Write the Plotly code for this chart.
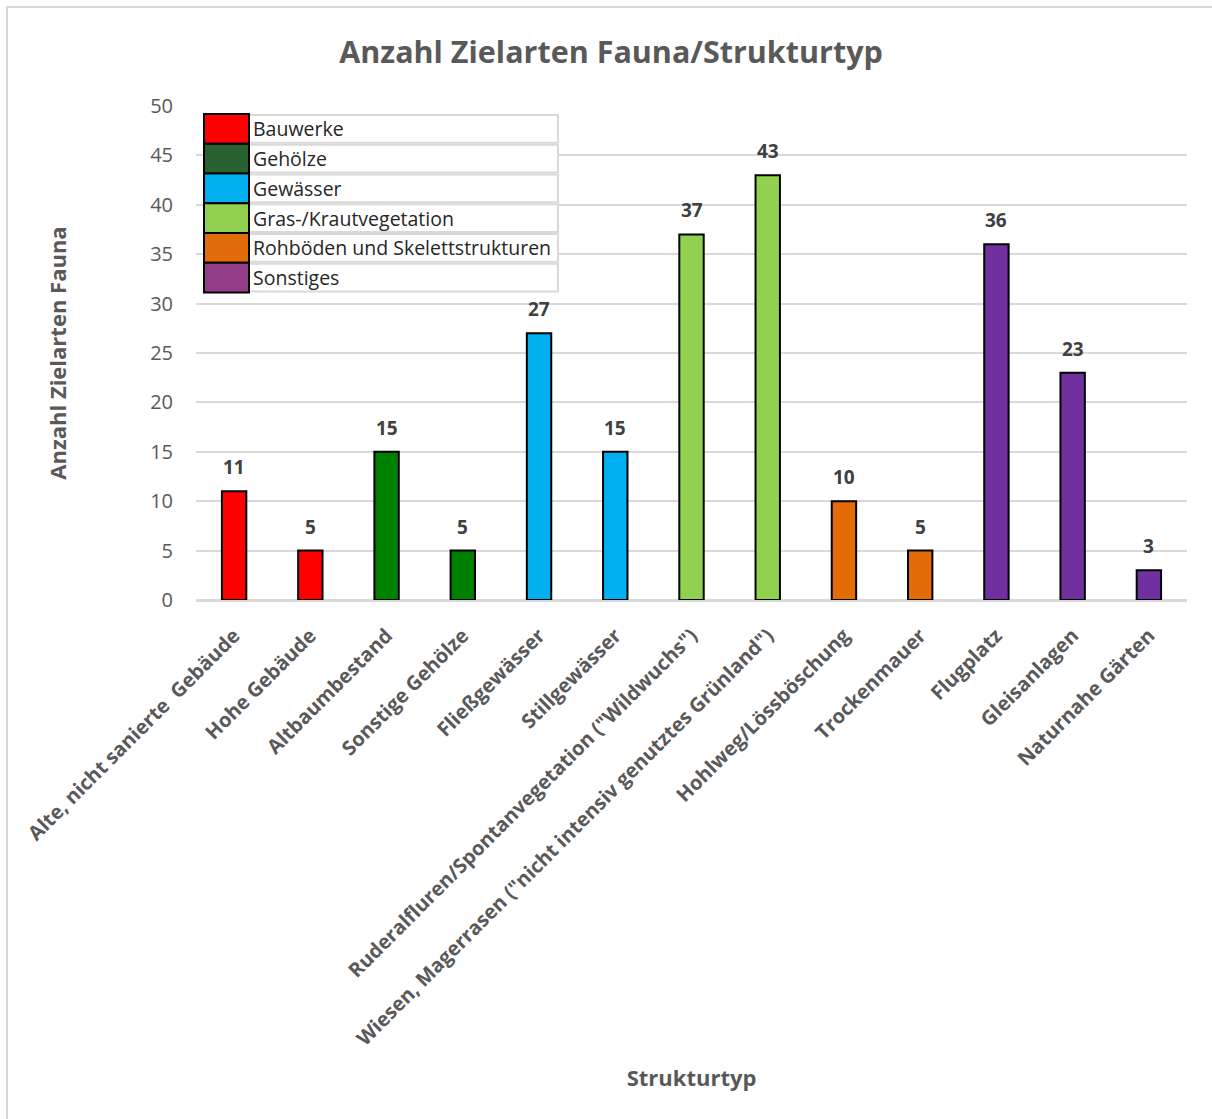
import plotly.graph_objects as go

# ---------------- data ----------------
categories = [
    "Alte, nicht sanierte  Gebäude",
    "Hohe Gebäude",
    "Altbaumbestand",
    "Sonstige Gehölze",
    "Fließgewässer",
    "Stillgewässer",
    'Ruderalfluren/Spontanvegetation ("Wildwuchs")',
    'Wiesen, Magerrasen ("nicht intensiv genutztes Grünland")',
    "Hohlweg/Lössböschung",
    "Trockenmauer",
    "Flugplatz",
    "Gleisanlagen",
    "Naturnahe Gärten",
]
values = [11, 5, 15, 5, 27, 15, 37, 43, 10, 5, 36, 23, 3]
groups = [
    "Bauwerke", "Bauwerke",
    "Gehölze", "Gehölze",
    "Gewässer", "Gewässer",
    "Gras-/Krautvegetation", "Gras-/Krautvegetation",
    "Rohböden und Skelettstrukturen", "Rohböden und Skelettstrukturen",
    "Sonstiges", "Sonstiges", "Sonstiges",
]
legend_labels = ["Bauwerke", "Gehölze", "Gewässer", "Gras-/Krautvegetation",
                 "Rohböden und Skelettstrukturen", "Sonstiges"]
bar_colors = ["#FF0000", "#008000", "#00B0F0", "#92D050", "#E36C09", "#7030A0"]
legend_colors = ["#FF0000", "#296131", "#00B0F0", "#92D050", "#E36C0A", "#943E8A"]
y_ticks = [0, 5, 10, 15, 20, 25, 30, 35, 40, 45, 50]

title_text = "Anzahl Zielarten Fauna/Strukturtyp"
x_title = "Strukturtyp"
y_title = "Anzahl Zielarten Fauna"

# ---------------- layout helpers ----------------
W, H = 1212, 1119
PL, PR, PT, PB = 196, 1187, 106, 600.5   # plot area in pixels


def px(x):
    return (x - PL) / (PR - PL)


def py(y):
    return (PB - y) / (PB - PT)


FONT = "Open Sans"
GRAY = "#595959"

color_map = dict(zip(legend_labels, bar_colors))
colors = [color_map[g] for g in groups]

fig = go.Figure()
fig.add_trace(go.Bar(
    x=categories,
    y=values,
    marker=dict(color=colors, line=dict(color="#000000", width=2)),
    width=0.32,
    showlegend=False,
    hoverinfo="x+y",
))

# data labels
for c, v in zip(categories, values):
    fig.add_annotation(
        x=c, y=v, xref="x", yref="y", text=f"<b>{v}</b>", showarrow=False,
        yanchor="middle", yshift=24,
        font=dict(family=FONT, size=19, color="#404040"),
    )

shapes = []
# outer chart border
shapes.append(dict(type="rect", xref="paper", yref="paper",
                   x0=px(7), x1=px(1230), y0=py(1140), y1=py(7),
                   line=dict(color="#D9D9D9", width=2), fillcolor="rgba(0,0,0,0)",
                   layer="below"))

# custom legend (table-like)
L_TOP, ROW_H = 114, 29.8
SW_X0, SW_X1, BOX_X1 = 204, 249, 558
for i, (lab, col) in enumerate(zip(legend_labels, legend_colors)):
    t = L_TOP + i * ROW_H
    b = t + ROW_H
    shapes.append(dict(type="rect", xref="paper", yref="paper",
                       x0=px(SW_X1), x1=px(BOX_X1), y0=py(b - 1), y1=py(t + 1),
                       line=dict(color="#D9D9D9", width=2), fillcolor="#FFFFFF",
                       layer="above"))
    shapes.append(dict(type="rect", xref="paper", yref="paper",
                       x0=px(SW_X0), x1=px(SW_X1), y0=py(b), y1=py(t),
                       line=dict(color="#000000", width=2), fillcolor=col,
                       layer="above"))
    fig.add_annotation(
        x=px(SW_X1 + 2), y=py((t + b) / 2), xref="paper", yref="paper",
        text=lab, showarrow=False, xanchor="left", yanchor="middle",
        font=dict(family=FONT, size=19.5, color="#262626"),
    )

fig.update_layout(
    width=W, height=H,
    margin=dict(l=PL, r=W - PR, t=PT, b=H - PB, autoexpand=False),
    paper_bgcolor="#FFFFFF",
    plot_bgcolor="#FFFFFF",
    shapes=shapes,
    title=dict(text=f"<b>{title_text}</b>", x=611 / W, xref="container",
               y=1 - 52 / H, yref="container", xanchor="center", yanchor="middle",
               font=dict(family=FONT, size=30.5, color=GRAY)),
    font=dict(family=FONT, color=GRAY),
)

fig.update_xaxes(
    type="category",
    tickangle=-45,
    tickfont=dict(family=FONT, size=20, color=GRAY, weight="bold"),
    showline=True, linecolor="#D9D9D9", linewidth=2,
    showgrid=False, ticks="outside", ticklen=14, tickcolor="rgba(0,0,0,0)",
    title=dict(text=f"<b>{x_title}</b>", standoff=21,
               font=dict(family=FONT, size=22, color=GRAY)),
    automargin=False,
)
fig.update_yaxes(
    range=[0, 50], tickvals=y_ticks,
    tickfont=dict(family=FONT, size=20, color=GRAY),
    showgrid=True, gridcolor="#D9D9D9", gridwidth=1.5,
    zeroline=True, zerolinecolor="#D9D9D9", zerolinewidth=2,
    showline=False, ticks="outside", ticklen=18, tickcolor="rgba(0,0,0,0)",
    title=dict(text=f"<b>{y_title}</b>", standoff=77,
               font=dict(family=FONT, size=22, color=GRAY)),
    automargin=False,
)

fig.write_html("out.html")
